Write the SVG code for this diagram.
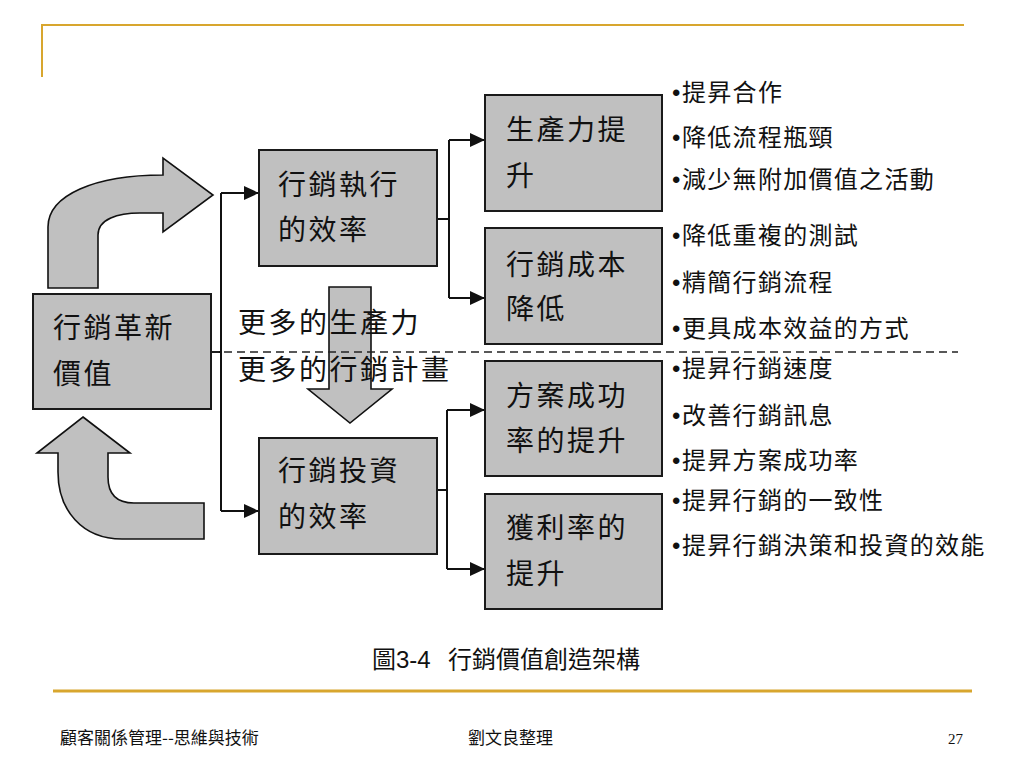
<svg xmlns="http://www.w3.org/2000/svg" width="1024" height="768" viewBox="0 0 1024 768">
<defs>
<style>
.box{fill:#c0c0c0;stroke:#1a1a1a;stroke-width:2}
.bigarrow{fill:#c0c0c0;stroke:#111;stroke-width:1.6;stroke-linejoin:miter}
.bt{font-family:"Noto Sans CJK TC","Noto Sans CJK SC",sans-serif;font-size:28px;letter-spacing:2.5px;fill:#111}
.bl{font-family:"Noto Sans CJK TC","Noto Sans CJK SC",sans-serif;font-size:24px;letter-spacing:1.3px;fill:#111}
.dot{font-family:"Liberation Sans",sans-serif;letter-spacing:0}
.conn{fill:none;stroke:#111;stroke-width:2}
.gold{stroke:#D8A62E;fill:none}
.ft{font-family:"Noto Sans CJK TC","Noto Sans CJK SC",sans-serif;font-size:17px;fill:#111}
</style>
<marker id="ah" markerUnits="userSpaceOnUse" markerWidth="16" markerHeight="16" viewBox="0 0 16 16" refX="15" refY="8" orient="auto">
<path d="M0,1 L15,8 L0,15 Z" fill="#111"/>
</marker>
</defs>
<rect width="1024" height="768" fill="#fff"/>

<g id="frame">
<path class="gold" stroke-width="2" d="M42,77 L42,25 L964,25"/>
<path class="gold" stroke-width="3" d="M53,691 L972,691"/>
</g>

<g id="curved-arrow-up-right">
<path class="bigarrow" d="M48,288 L48,227 C48,195 95,175 163,175 L163,158 L213,195 L163,232 L163,213 L140,213 C118,213 98,219 98,235 L98,288 Z"/>
</g>
<g id="curved-arrow-bottom-up">
<path class="bigarrow" d="M83,417 L130,453 L108,453 L108,477 C108,495 118,503 134,503 L204,503 L204,539 L122,539 C82,539 58,510 58,472 L58,453 L37,453 Z"/>
</g>
<g id="down-arrow">
<path class="bigarrow" d="M329,287 L371,287 L371,389 L392,389 L350,423 L308,389 L329,389 Z"/>
</g>

<g id="connectors">
<path class="conn" d="M211,352 L221,352"/>
<path class="conn" d="M221,193 L221,511"/>
<path class="conn" d="M221,193 L259,193" marker-end="url(#ah)"/>
<path class="conn" d="M221,511 L259,511" marker-end="url(#ah)"/>
<path class="conn" d="M437,219 L449,219"/>
<path class="conn" d="M449,140 L449,298"/>
<path class="conn" d="M449,140 L485,140" marker-end="url(#ah)"/>
<path class="conn" d="M449,298 L485,298" marker-end="url(#ah)"/>
<path class="conn" d="M437,490 L447,490"/>
<path class="conn" d="M447,410 L447,569"/>
<path class="conn" d="M447,410 L485,410" marker-end="url(#ah)"/>
<path class="conn" d="M447,569 L485,569" marker-end="url(#ah)"/>
<path d="M211,352 L958,352" fill="none" stroke="#222" stroke-width="1.6" stroke-dasharray="8,5"/>
</g>

<g id="node-innovation">
<rect class="box" x="33" y="294" width="178" height="115"/>
<text class="bt" x="53" y="338">行銷革新</text>
<text class="bt" x="53" y="384">價值</text>
</g>
<g id="node-exec">
<rect class="box" x="259" y="150" width="178" height="116"/>
<text class="bt" x="278" y="195">行銷執行</text>
<text class="bt" x="278" y="240">的效率</text>
</g>
<g id="node-invest">
<rect class="box" x="259" y="438" width="178" height="116"/>
<text class="bt" x="278" y="481">行銷投資</text>
<text class="bt" x="278" y="527">的效率</text>
</g>
<g id="node-productivity">
<rect class="box" x="485" y="95" width="177" height="116"/>
<text class="bt" x="506" y="140">生產力提</text>
<text class="bt" x="506" y="186">升</text>
</g>
<g id="node-cost">
<rect class="box" x="485" y="228" width="177" height="116"/>
<text class="bt" x="506" y="275">行銷成本</text>
<text class="bt" x="506" y="319">降低</text>
</g>
<g id="node-success">
<rect class="box" x="485" y="361" width="177" height="115"/>
<text class="bt" x="506" y="406">方案成功</text>
<text class="bt" x="506" y="451">率的提升</text>
</g>
<g id="node-profit">
<rect class="box" x="485" y="494" width="177" height="115"/>
<text class="bt" x="506" y="538">獲利率的</text>
<text class="bt" x="506" y="584">提升</text>
</g>

<g id="arrow-label">
<text class="bt" x="238" y="333">更多的生產力</text>
<text class="bt" x="238" y="380">更多的行銷計畫</text>
</g>

<g id="bullets">
<text class="bl" y="101"><tspan class="dot" x="672">•</tspan><tspan x="682">提昇合作</tspan></text>
<text class="bl" y="146"><tspan class="dot" x="672">•</tspan><tspan x="682">降低流程瓶頸</tspan></text>
<text class="bl" y="188"><tspan class="dot" x="672">•</tspan><tspan x="682">減少無附加價值之活動</tspan></text>
<text class="bl" y="244"><tspan class="dot" x="672">•</tspan><tspan x="682">降低重複的測試</tspan></text>
<text class="bl" y="291"><tspan class="dot" x="672">•</tspan><tspan x="682">精簡行銷流程</tspan></text>
<text class="bl" y="337"><tspan class="dot" x="672">•</tspan><tspan x="682">更具成本效益的方式</tspan></text>
<text class="bl" y="377"><tspan class="dot" x="672">•</tspan><tspan x="682">提昇行銷速度</tspan></text>
<text class="bl" y="424"><tspan class="dot" x="672">•</tspan><tspan x="682">改善行銷訊息</tspan></text>
<text class="bl" y="469"><tspan class="dot" x="672">•</tspan><tspan x="682">提昇方案成功率</tspan></text>
<text class="bl" y="509"><tspan class="dot" x="672">•</tspan><tspan x="682">提昇行銷的一致性</tspan></text>
<text class="bl" y="554"><tspan class="dot" x="672">•</tspan><tspan x="682">提昇行銷決策和投資的效能</tspan></text>
</g>

<g id="caption">
<text x="372" y="668" font-family="'Liberation Sans','Noto Sans CJK TC',sans-serif" font-size="24" fill="#111"><tspan font-family="'Noto Sans CJK TC',sans-serif">圖</tspan>3-4 <tspan font-family="'Noto Sans CJK TC',sans-serif" x="448">行銷價值創造架構</tspan></text>
</g>

<g id="footer">
<text class="ft" x="60" y="744">顧客關係管理--思維與技術</text>
<text class="ft" x="468" y="744">劉文良整理</text>
<text x="948" y="744" font-family="'Liberation Serif',serif" font-size="15" fill="#111">27</text>
</g>
</svg>
